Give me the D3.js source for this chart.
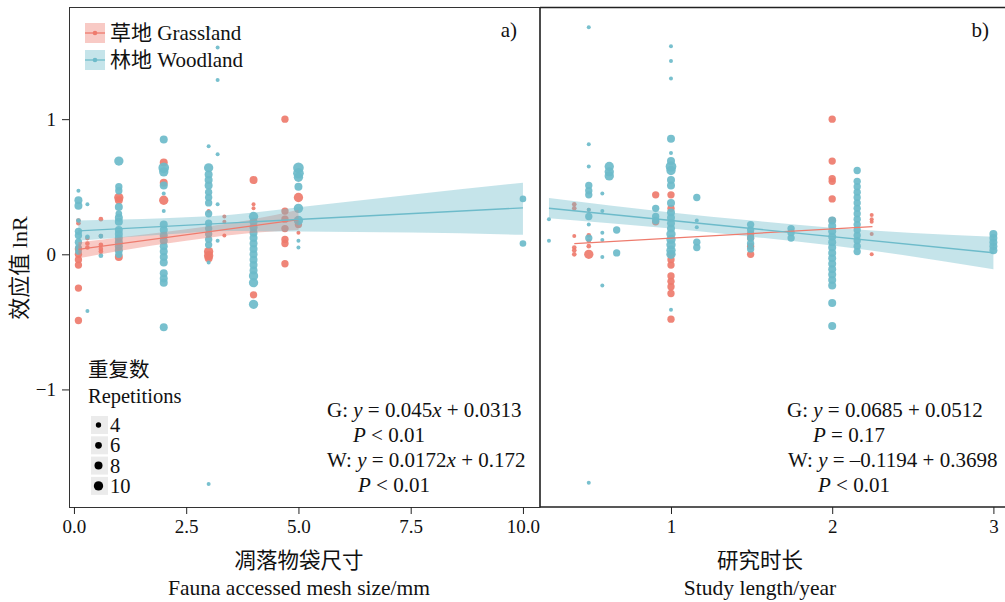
<!DOCTYPE html>
<html>
<head>
<meta charset="utf-8">
<script src="https://cdn.jsdelivr.net/npm/d3@7"></script>
<style>
  body { margin: 0; background: #fff; }
  text { font-family: "Liberation Serif", "Noto Sans CJK SC", serif; fill: #111; }
</style>
</head>
<body>
<script>
// colours
var red = "#EE7B6D", blue = "#6DBBCA";

// [x, lnR, repetitions]
var grassMesh = [
  [0.1,0.25,3],[0.1,0.23,3],[0.1,0.04,7],[0.1,0.0,7],[0.1,-0.04,7],[0.1,-0.08,7],[0.1,-0.25,7],[0.1,-0.49,7],
  [0.3,0.12,3],[0.3,0.08,3],[0.3,0.05,3],
  [0.6,0.26,3],[0.6,0.135,3],[0.6,0.07,3],[0.6,0.04,3],[0.6,0.02,3],
  [1,0.42,10],[1,0.40,8],[1,-0.02,8],
  [2,0.68,8],[2,0.53,8],[2,0.40,10],
  [3,0.32,2],[3,0.02,10],[3,-0.01,10],[3,-0.03,8],
  [3.35,0.28,2],[3.35,0.24,2],[3.35,0.14,2],
  [4,0.55,8],[4,0.37,2],[4,0.34,2],[4,-0.30,7],
  [4.7,1.0,7],[4.7,0.32,7],[4.7,0.26,7],[4.7,0.19,7],[4.7,0.11,7],[4.7,0.08,7],[4.7,-0.07,7],
  [5,0.42,10],[5,0.22,7],[5,0.16,2]
];
var woodMesh = [
  [0.1,0.47,2],[0.1,0.40,8],[0.1,0.36,8],[0.1,0.25,3],[0.1,0.17,7],[0.1,0.14,7],[0.1,0.09,7],[0.1,0.05,6],[0.1,0.02,6],
  [0.3,0.37,2],[0.3,0.13,3],[0.3,-0.42,2],
  [0.6,0.135,3],[0.6,-0.01,3],
  [1,0.69,10],[1,0.50,7],[1,0.47,7],[1,0.35,8],[1,0.30,6],[1,0.27,8],[1,0.24,8],[1,0.18,8],[1,0.15,8],[1,0.12,8],[1,0.09,8],[1,0.06,8],[1,0.03,8],[1,0.0,7],
  [2,0.85,8],[2,0.64,12],[2,0.61,10],[2,0.51,8],[2,0.45,2],[2,0.32,2],[2,0.22,8],[2,0.18,8],[2,0.14,8],[2,0.10,8],[2,0.06,8],[2,0.02,8],[2,-0.02,8],[2,-0.06,8],[2,-0.14,8],[2,-0.18,8],[2,-0.21,8],[2,-0.54,8],
  [3,1.67,2],[3,0.80,2],[3,-1.70,2],[3,0.64,10],[3,0.59,8],[3,0.55,8],[3,0.51,8],[3,0.46,7],[3,0.42,7],[3,0.38,7],[3,0.30,7],[3,0.23,7],[3,0.19,7],[3,0.15,7],[3,0.11,7],[3,0.07,7],[3,-0.06,2],
  [3.2,1.53,2],[3.2,1.29,2],[3.2,0.74,2],[3.2,0.37,2],[3.2,0.10,2],
  [4,0.28,10],[4,0.24,8],[4,0.20,8],[4,0.16,8],[4,0.12,8],[4,0.08,8],[4,0.04,8],[4,0.0,8],[4,-0.04,8],[4,-0.08,8],[4,-0.12,8],[4,-0.16,10],[4,-0.21,10],[4,-0.37,10],
  [5,0.64,12],[5,0.60,12],[5,0.57,10],[5,0.50,8],[5,0.34,10],[5,0.25,10],[5,0.10,2],[5,0.05,2],
  [10,0.41,6],[10,0.08,6]
];
var grassStudy = [
  [0.4,0.37,3],[0.4,0.34,3],[0.4,0.135,2],[0.4,0.05,3],[0.4,0.03,3],[0.4,0.0,3],
  [0.49,0.33,2],[0.49,0.14,3],[0.49,0.10,3],[0.49,0.06,3],[0.49,0.0,10],
  [0.905,0.44,7],[0.905,0.24,7],
  [1,0.44,7],[1,0.34,7],[1,0.0,7],[1,-0.04,7],[1,-0.08,7],[1,-0.16,7],[1,-0.20,7],[1,-0.24,7],[1,-0.29,7],[1,-0.48,7],
  [1.494,0.15,7],[1.494,0.12,7],[1.494,0.06,7],[1.494,0.0,7],
  [2,1.0,7],[2,0.69,7],[2,0.56,7],[2,0.54,7],[2,0.41,7],[2,0.25,7],
  [2.245,0.29,2],[2.245,0.26,2],[2.245,0.24,2],[2.245,0.15,2],[2.245,0.0,2]
];
var woodStudy = [
  [0.243,0.26,2],[0.243,0.10,2],
  [0.49,1.68,2],[0.49,-1.69,2],[0.49,0.815,2],[0.49,0.65,2],[0.49,0.51,7],[0.49,0.47,7],[0.49,0.44,7],[0.49,0.33,2],[0.49,0.28,7],[0.49,0.22,2],[0.49,0.12,7],
  [0.574,0.45,2],[0.574,0.32,2],[0.574,0.16,2],[0.574,0.105,2],[0.574,-0.02,2],[0.574,-0.23,2],
  [0.617,0.65,10],[0.617,0.61,10],[0.617,0.58,10],
  [0.663,0.18,7],[0.663,0.01,7],
  [0.905,0.34,7],[0.905,0.28,7],[0.905,0.25,7],
  [1,1.54,2],[1,1.43,2],[1,1.30,2],[1,0.855,8],[1,0.75,2],[1,0.69,8],[1,0.65,12],[1,0.62,10],[1,0.55,8],[1,0.51,8],[1,0.38,8],[1,0.31,8],[1,0.27,8],[1,0.23,8],[1,0.19,8],[1,0.15,10],[1,0.11,10],[1,0.07,10],[1,0.03,10],[1,0.0,10],[1,-0.41,2],
  [1.16,0.42,7],[1.16,0.25,2],[1.16,0.20,2],[1.16,0.09,7],[1.16,0.05,7],
  [1.494,0.22,7],[1.494,0.18,7],[1.494,0.12,7],[1.494,0.08,7],[1.494,0.04,7],
  [1.745,0.19,7],[1.745,0.16,7],[1.745,0.12,7],
  [2,0.25,8],[2,0.21,8],[2,0.17,8],[2,0.13,8],[2,0.09,8],[2,0.05,8],[2,0.01,8],[2,-0.03,8],[2,-0.07,8],[2,-0.11,8],[2,-0.15,8],[2,-0.19,8],[2,-0.23,8],[2,-0.36,8],[2,-0.53,8],
  [2.155,0.62,7],[2.155,0.54,7],[2.155,0.50,7],[2.155,0.46,7],[2.155,0.42,7],[2.155,0.38,7],[2.155,0.34,7],[2.155,0.30,7],[2.155,0.26,7],[2.155,0.22,7],[2.155,0.18,7],[2.155,0.14,7],[2.155,0.10,7],[2.155,0.06,7],[2.155,0.02,7],
  [3,0.15,8],[3,0.12,8],[3,0.09,8],[3,0.06,8],[3,0.03,8]
];

// fitted lines: [slope, intercept, xmin, xmax]
var meshFitG = [0.045, 0.0313, 0.1, 5];
var meshFitW = [0.0172, 0.172, 0.1, 10];
var studyFitG = [0.0685, 0.0512, 0.4, 2.25];
var studyFitW = [-0.1194, 0.3698, 0.243, 3];

// confidence bands
var meshBandGx = [0.1, 1, 2.5, 4, 5];
var meshBandGlo = [-0.03, 0.025, 0.10, 0.16, 0.18];
var meshBandGhi = [0.09, 0.125, 0.185, 0.26, 0.33];
var meshBandWx = [0.1, 2, 3.5, 5, 7.5, 10];
var meshBandWlo = [0.10, 0.146, 0.172, 0.168, 0.161, 0.145];
var meshBandWhi = [0.25, 0.266, 0.292, 0.348, 0.441, 0.53];
var studyBandWx = [0.243, 1, 1.5, 2, 3];
var studyBandWlo = [0.266, 0.19, 0.13, 0.066, -0.11];
var studyBandWhi = [0.416, 0.31, 0.25, 0.196, 0.13];

var meshTicks = [0, 2.5, 5, 7.5, 10];
var studyTicks = [1, 2, 3];
var yTicks = [-1, 0, 1];
var sizeKeys = [4, 6, 8, 10];

var svg = d3.select("body").append("svg").attr("width", 1005).attr("height", 602);

var plotTop = 7, plotBottom = 507;
var y = d3.scaleLinear().domain([-1.87, 1.83]).range([plotBottom, plotTop]);
var xa = d3.scaleLinear().domain([-0.11, 10.38]).range([69, 540]);
var xb = d3.scaleLinear().domain([0.1874, 3.072]).range([540, 1005]);
var r = d3.scaleLinear().domain([2, 14]).range([2, 6]);

function drawPanel(x, grass, wood, bands, fits) {
  var g = svg.append("g");
  var pts = g.append("g");
  pts.selectAll(".g").data(grass).enter().append("circle")
    .attr("cx", function (d) { return x(d[0]); })
    .attr("cy", function (d) { return y(d[1]); })
    .attr("r", function (d) { return r(d[2]); })
    .attr("fill", red).attr("fill-opacity", 0.92);
  pts.selectAll(".w").data(wood).enter().append("circle")
    .attr("cx", function (d) { return x(d[0]); })
    .attr("cy", function (d) { return y(d[1]); })
    .attr("r", function (d) { return r(d[2]); })
    .attr("fill", blue).attr("fill-opacity", 0.92);

  bands.forEach(function (b) {
    var rows = b.x.map(function (v, i) { return [v, b.lo[i], b.hi[i]]; });
    var area = d3.area().curve(d3.curveMonotoneX)
      .x(function (d) { return x(d[0]); })
      .y0(function (d) { return y(d[1]); })
      .y1(function (d) { return y(d[2]); });
    g.append("path").attr("d", area(rows)).attr("fill", b.color).attr("fill-opacity", 0.4);
  });
  fits.forEach(function (f) {
    var p = f.p;
    g.append("line")
      .attr("x1", x(p[2])).attr("y1", y(p[0] * p[2] + p[1]))
      .attr("x2", x(p[3])).attr("y2", y(p[0] * p[3] + p[1]))
      .attr("stroke", f.color).attr("stroke-width", 1.3);
  });
}

drawPanel(xa, grassMesh, woodMesh,
  [{x: meshBandGx, lo: meshBandGlo, hi: meshBandGhi, color: red},
   {x: meshBandWx, lo: meshBandWlo, hi: meshBandWhi, color: blue}],
  [{p: meshFitG, color: red}, {p: meshFitW, color: blue}]);
drawPanel(xb, grassStudy, woodStudy,
  [{x: studyBandWx, lo: studyBandWlo, hi: studyBandWhi, color: blue}],
  [{p: studyFitG, color: red}, {p: studyFitW, color: blue}]);

// frames
svg.append("rect").attr("x", 69.5).attr("y", plotTop + 0.5).attr("width", 470.5).attr("height", plotBottom - plotTop)
  .attr("fill", "none").attr("stroke", "#333").attr("stroke-width", 1);
svg.append("path").attr("d", "M540," + (plotTop + 0.5) + "H1005M540," + plotBottom + "H1005")
  .attr("fill", "none").attr("stroke", "#222").attr("stroke-width", 1.6);
svg.append("line").attr("x1", 540).attr("x2", 540).attr("y1", plotTop).attr("y2", plotBottom)
  .attr("stroke", "#222").attr("stroke-width", 1.3);

// axes
var yAxis = svg.append("g").attr("transform", "translate(69,0)")
  .call(d3.axisLeft(y).tickValues(yTicks).tickSize(7).tickPadding(6)
    .tickFormat(function (d) { return d < 0 ? "\u2212" + Math.abs(d) : d; }));
var xAxisA = svg.append("g").attr("transform", "translate(0," + plotBottom + ")")
  .call(d3.axisBottom(xa).tickValues(meshTicks).tickSize(7).tickPadding(6).tickFormat(d3.format(".1f")));
var xAxisB = svg.append("g").attr("transform", "translate(0," + plotBottom + ")")
  .call(d3.axisBottom(xb).tickValues(studyTicks).tickSize(7).tickPadding(6).tickFormat(d3.format("d")));
[yAxis, xAxisA, xAxisB].forEach(function (a) {
  a.select(".domain").remove();
  a.selectAll("line").attr("stroke", "#222");
  a.selectAll("text").attr("font-size", 19).attr("fill", "#111")
    .style("font-family", "'Liberation Serif', serif");
});

// axis titles
svg.append("text").attr("transform", "translate(27,268) rotate(-90)")
  .attr("text-anchor", "middle").attr("font-size", 22).text("效应值 lnR");
svg.append("text").attr("x", 299).attr("y", 568).attr("text-anchor", "middle").attr("font-size", 21.5).text("凋落物袋尺寸");
svg.append("text").attr("x", 299).attr("y", 595).attr("text-anchor", "middle").attr("font-size", 21.5).text("Fauna accessed mesh size/mm");
svg.append("text").attr("x", 760).attr("y", 568).attr("text-anchor", "middle").attr("font-size", 21.5).text("研究时长");
svg.append("text").attr("x", 760).attr("y", 595).attr("text-anchor", "middle").attr("font-size", 21.5).text("Study length/year");

// panel tags
svg.append("text").attr("x", 517).attr("y", 37).attr("text-anchor", "end").attr("font-size", 21).text("a)");
svg.append("text").attr("x", 989).attr("y", 37).attr("text-anchor", "end").attr("font-size", 21).text("b)");

// colour legend
var legendNames = ["草地 Grassland", "林地 Woodland"];
var legendColors = [red, blue];
legendNames.forEach(function (name, i) {
  var cy = 33 + i * 27;
  svg.append("rect").attr("x", 85).attr("y", cy - 10).attr("width", 20).attr("height", 20)
    .attr("fill", legendColors[i]).attr("fill-opacity", 0.4);
  svg.append("line").attr("x1", 85).attr("x2", 105).attr("y1", cy).attr("y2", cy)
    .attr("stroke", legendColors[i]).attr("stroke-width", 1.3);
  svg.append("circle").attr("cx", 95).attr("cy", cy).attr("r", 2.3).attr("fill", legendColors[i]);
  svg.append("text").attr("x", 110).attr("y", cy + 7).attr("font-size", 21).text(name);
});

// size legend
svg.append("text").attr("x", 88).attr("y", 377).attr("font-size", 20.5).text("重复数");
svg.append("text").attr("x", 88).attr("y", 403).attr("font-size", 20.5).text("Repetitions");
sizeKeys.forEach(function (k, i) {
  var cy = 425 + i * 20.3;
  svg.append("rect").attr("x", 91).attr("y", cy - 9).attr("width", 17).attr("height", 18).attr("fill", "#ebebeb");
  svg.append("circle").attr("cx", 98.5).attr("cy", cy).attr("r", r(k)).attr("fill", "#000");
  svg.append("text").attr("x", 110).attr("y", cy + 7).attr("font-size", 20.5).text(k);
});

// equations
function eqn(x, yb, parts) {
  var t = svg.append("text").attr("x", x).attr("y", yb).attr("font-size", 21);
  parts.forEach(function (p) {
    t.append("tspan").attr("font-style", p[1] ? "italic" : "normal").text(p[0]);
  });
}
eqn(327, 417, [["G: ", 0], ["y", 1], [" = 0.045", 0], ["x", 1], [" + 0.0313", 0]]);
eqn(353, 442, [["P", 1], [" < 0.01", 0]]);
eqn(327, 467, [["W: ", 0], ["y", 1], [" = 0.0172", 0], ["x", 1], [" + 0.172", 0]]);
eqn(358, 492, [["P", 1], [" < 0.01", 0]]);
eqn(787, 417, [["G: ", 0], ["y", 1], [" = 0.0685 + 0.0512", 0]]);
eqn(813, 442, [["P", 1], [" = 0.17", 0]]);
eqn(788, 467, [["W: ", 0], ["y", 1], [" = \u20130.1194 + 0.3698", 0]]);
eqn(818, 492, [["P", 1], [" < 0.01", 0]]);
</script>
</body>
</html>
